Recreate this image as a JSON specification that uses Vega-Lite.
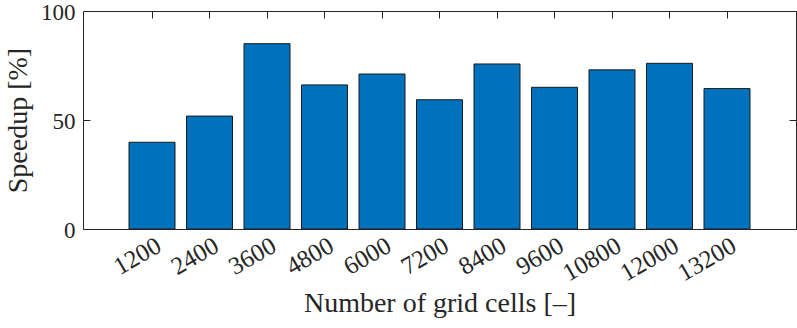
{
  "$schema": "https://vega.github.io/schema/vega-lite/v6.json",
  "width": 713,
  "height": 218,
  "autosize": {"type": "none"},
  "padding": {"left": 83, "top": 11, "right": 1, "bottom": 99},
  "background": "white",
  "config": {
    "view": {"stroke": "#262626", "strokeWidth": 1},
    "font": "Liberation Serif",
    "axis": {
      "domain": false,
      "grid": false,
      "tickColor": "#262626",
      "tickWidth": 1,
      "labelColor": "#262626",
      "titleColor": "#262626",
      "labelFont": "Liberation Serif",
      "titleFont": "Liberation Serif",
      "titleFontWeight": "normal"
    }
  },
  "data": {
    "values": [
      {"cells": 1200, "speedup": 39.8},
      {"cells": 2400, "speedup": 51.8},
      {"cells": 3600, "speedup": 85.0},
      {"cells": 4800, "speedup": 66.1},
      {"cells": 6000, "speedup": 71.1},
      {"cells": 7200, "speedup": 59.3},
      {"cells": 8400, "speedup": 75.7},
      {"cells": 9600, "speedup": 65.0},
      {"cells": 10800, "speedup": 73.0},
      {"cells": 12000, "speedup": 76.0},
      {"cells": 13200, "speedup": 64.4}
    ]
  },
  "layer": [
    {
      "mark": {"type": "bar", "fill": "#0072BD", "stroke": "#1a1a1a", "strokeWidth": 1},
      "encoding": {
        "x": {
          "field": "cells",
          "type": "ordinal",
          "scale": {"paddingInner": 0.2, "paddingOuter": 0.8},
          "axis": {
            "orient": "bottom",
            "title": "Number of grid cells [–]",
            "titleFontSize": 28,
            "titlePadding": 4,
            "labelAngle": -30,
            "labelAlign": "right",
            "labelBaseline": "middle",
            "labelFontSize": 25,
            "labelOffset": 7,
            "tickSize": -7,
            "labelPadding": 21
          }
        },
        "y": {
          "field": "speedup",
          "type": "quantitative",
          "scale": {"domain": [0, 100]},
          "axis": {
            "orient": "left",
            "values": [0, 50, 100],
            "title": "Speedup [%]",
            "titleFontSize": 28,
            "titlePadding": 8,
            "labelFontSize": 23,
            "labelOffset": 1,
            "tickSize": -7,
            "labelPadding": 15
          }
        }
      }
    },
    {
      "mark": {"type": "bar", "opacity": 0},
      "encoding": {
        "x": {
          "field": "cells",
          "type": "ordinal",
          "axis": {"orient": "top", "labels": false, "title": null, "tickSize": -7}
        },
        "y": {
          "field": "speedup",
          "type": "quantitative",
          "axis": {"orient": "right", "values": [0, 50, 100], "labels": false, "title": null, "tickSize": -7}
        }
      }
    }
  ],
  "resolve": {"axis": {"x": "independent", "y": "independent"}}
}
